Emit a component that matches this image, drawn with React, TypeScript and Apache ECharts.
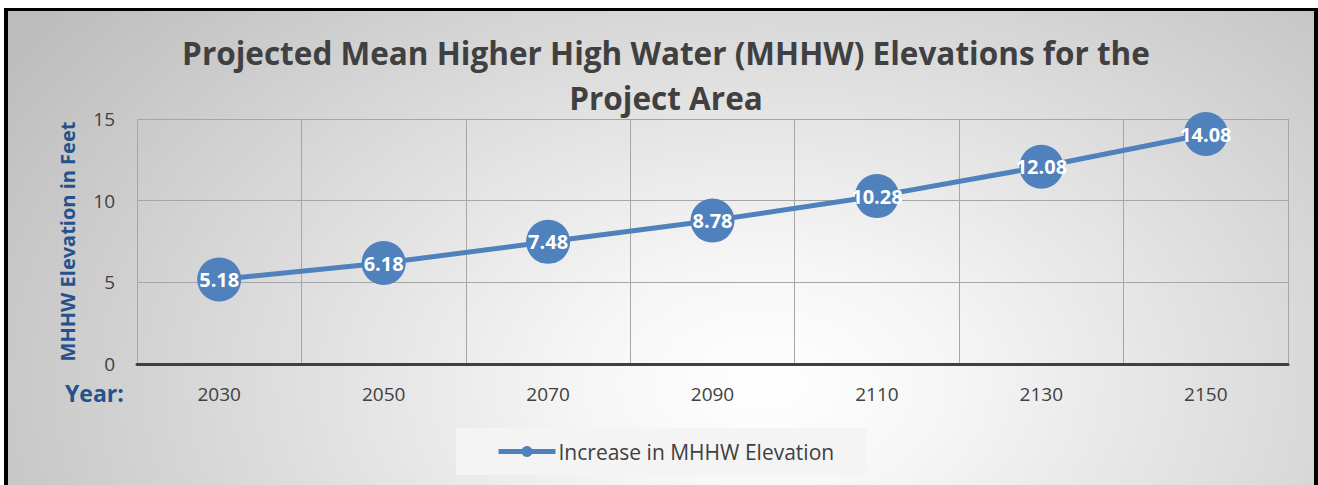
import React, { useEffect, useRef } from "react";
import * as echarts from "echarts";

const years = ["2030", "2050", "2070", "2090", "2110", "2130", "2150"];
const mhhw = [5.18, 6.18, 7.48, 8.78, 10.28, 12.08, 14.08];
const seriesName = "Increase in MHHW Elevation";
const titleLines = ["Projected Mean Higher High Water (MHHW) Elevations for the", "Project Area"];
const yAxisName = "MHHW Elevation in Feet";
const xAxisCaption = "Year:";

const FONT = "'Open Sans', sans-serif";
const BLUE = "#4f81bd";
const DARK_BLUE = "#24528c";
const GREY_TEXT = "#404040";

export default function App() {
  const ref = useRef<HTMLDivElement>(null);
  useEffect(() => {
    document.body.style.margin = "0";
    document.body.style.overflow = "hidden";
    const chart = echarts.init(ref.current!, null, { renderer: "svg" });
    chart.setOption({
      animation: false,
      backgroundColor: "transparent",
      textStyle: { fontFamily: FONT },
      title: {
        text: titleLines.join("\n"),
        left: 661,
        top: 25,
        textAlign: "center",
        textStyle: {
          fontFamily: FONT,
          fontSize: 31.5,
          fontWeight: "bold",
          color: GREY_TEXT,
          lineHeight: 45,
        },
      },
      graphic: [
        {
          type: "text",
          left: 65,
          top: 381,
          style: {
            text: xAxisCaption,
            fontFamily: FONT,
            fontSize: 23,
            fontWeight: "bold",
            fill: DARK_BLUE,
          },
        },
      ],
      legend: {
        left: 456,
        top: 428,
        backgroundColor: "#f4f4f4",
        padding: [13, 33, 13, 40],
        itemWidth: 57,
        itemHeight: 14,
        itemGap: 10,
        lineStyle: { width: 5 },
        textStyle: { fontFamily: FONT, fontSize: 21, color: GREY_TEXT, padding: [0, 0, 0, -2] },
        data: [seriesName],
      },
      grid: { left: 137, right: 30, top: 119, bottom: 121, containLabel: false },
      xAxis: {
        type: "category",
        data: years,
        boundaryGap: true,
        axisLine: { show: true, lineStyle: { color: GREY_TEXT, width: 3 } },
        axisTick: { show: false },
        axisLabel: { color: GREY_TEXT, fontSize: 19, margin: 20, fontFamily: FONT },
        splitLine: { show: true, interval: 0, lineStyle: { color: "#a6a6a6", width: 1 } },
      },
      yAxis: {
        type: "value",
        min: 0,
        max: 15,
        interval: 5,
        name: yAxisName,
        nameLocation: "middle",
        nameRotate: 90,
        nameGap: 60,
        nameTextStyle: { color: DARK_BLUE, fontWeight: "bold", fontSize: 20, fontFamily: FONT },
        axisLine: { show: false },
        axisTick: { show: false },
        axisLabel: { color: GREY_TEXT, fontSize: 19, margin: 22, fontFamily: FONT },
        splitLine: { show: true, lineStyle: { color: "#a6a6a6", width: 1 } },
      },
      series: [
        {
          name: seriesName,
          type: "line",
          data: mhhw,
          symbol: "circle",
          symbolSize: 44,
          itemStyle: { color: BLUE },
          lineStyle: { color: BLUE, width: 5 },
          label: {
            show: true,
            position: "inside",
            color: "#ffffff",
            fontWeight: "bold",
            fontSize: 20,
            fontFamily: FONT,
          },
          z: 3,
        },
      ],
    });
    return () => chart.dispose();
  }, []);

  return (
    <div style={{ position: "fixed", left: 0, top: 0, width: 1318, height: 485, background: "#fff", overflow: "hidden" }}>
      <div
        style={{
          position: "absolute",
          left: 4,
          top: 8,
          width: 1314,
          height: 500,
          boxSizing: "border-box",
          borderTop: "3px solid #000",
          borderLeft: "4px solid #000",
          borderRight: "4px solid #000",
          background: "radial-gradient(ellipse 900px 600px at 58% 75%, #ffffff 0%, #f6f6f6 20%, #bdbdbd 100%)",
        }}
      />
      <div ref={ref} style={{ position: "absolute", left: 0, top: 0, width: 1318, height: 485 }} />
    </div>
  );
}
